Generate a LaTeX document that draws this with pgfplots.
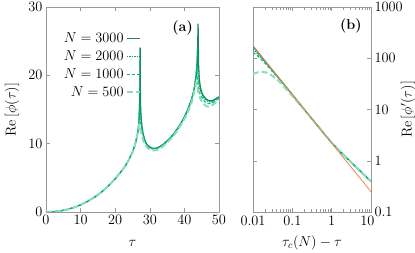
\documentclass[border=0pt]{standalone}
\usepackage{fontspec}
\usepackage{pgfplots}
\pgfplotsset{compat=1.18}
\definecolor{cA}{RGB}{30,135,90}
\definecolor{cB}{RGB}{0,160,105}
\definecolor{cC}{RGB}{0,190,120}
\definecolor{cD}{RGB}{140,220,188}
\definecolor{cO}{RGB}{240,130,70}
\newcommand{\fs}{\fontsize{14.4}{16}\selectfont}
\pgfplotsset{
  myax/.style={
    scale only axis, height=205bp,
    axis line style={gray!80}, tick style={gray!80, line width=0.5pt},
    tick align=inside,
    label style={font=\fs},
    tick label style={font=\fs},
    every axis plot/.append style={line join=round},
  },
}
\begin{document}
\begin{tikzpicture}
\path[use as bounding box] (-46bp,-41bp) rectangle (369bp,212bp);
\begin{axis}[myax, at={(0,0)}, anchor=south west, width=173bp,
  xmin=0, xmax=50, ymin=0, ymax=30,
  xtick={0,10,20,30,40,50}, ytick={0,10,20,30},
  xlabel={$\tau$}, ylabel={$\mathrm{Re}\left[\phi(\tau)\right]$},
  xlabel style={at={(axis description cs:0.5,-0.151)}, anchor=center},
  ylabel style={at={(axis description cs:-0.197,0.5)}, anchor=center, rotate=0},
  legend style={at={(0.548,0.886)}, anchor=north east, draw=none, fill=none,
    font=\fs, row sep=2.8pt, inner sep=0pt},
  legend cell align=right, legend plot pos=right,
  legend image code/.code={\draw[#1] (0cm,0cm) -- (0.46cm,0cm);},
]
\addplot[color=cA, line width=1.3pt] coordinates {
(0,0) (2,0.04) (4,0.15) (6,0.35) (8,0.65) (10,1.05) (12,1.55) (14,2.15) (16,2.9) (18,3.8) (20,4.85) (22,6.1) (23,6.8) (24,7.7) (25,8.8) (25.5,9.5) (26,10.4) (26.4,11.3) (26.7,12.3) (26.9,13.5) (27.0,14.6) (27.1,16.5) (27.15,18.5) (27.2,24.0) (27.22,20.0) (27.3,16.0) (27.45,14.0) (27.7,12.6) (28,11.6) (28.5,10.6) (29,10.0) (29.5,9.7) (30,9.5) (31,9.3) (32,9.35) (33,9.6) (34,9.95) (35,10.4) (36,10.9) (37,11.5) (38,12.2) (39,13.0) (40,13.9) (41,15.0) (42,16.4) (42.5,17.3) (43,18.5) (43.4,20.0) (43.7,22.0) (43.85,24.0) (43.95,27.5) (44.0,25.0) (44.1,21.5) (44.3,19.5) (44.6,18.3) (45,17.5) (45.5,17.0) (46,16.7) (46.5,16.45) (47,16.3) (47.5,16.25) (48,16.3) (48.5,16.4) (49,16.55) (49.5,16.7) (50,16.85)};
\addlegendentry{$N=3000$}
\addplot[color=cB, line width=1.1pt, dash pattern=on 1.5pt off 1pt] coordinates {
(0,0) (2,0.04) (4,0.15) (6,0.35) (8,0.65) (10,1.05) (12,1.55) (14,2.15) (16,2.9) (18,3.8) (20,4.85) (22,6.1) (23,6.8) (24,7.7) (25,8.8) (25.5,9.5) (26,10.4) (26.4,11.3) (26.7,12.3) (26.9,13.6) (27.0,14.8) (27.08,17) (27.13,22) (27.16,18) (27.25,15.5) (27.45,13.8) (27.7,12.5) (28,11.5) (28.5,10.5) (29,9.95) (29.5,9.65) (30,9.45) (31,9.27) (32,9.32) (33,9.6) (34,9.95) (35,10.4) (36,10.9) (37,11.5) (38,12.2) (39,13.0) (40,13.9) (41,15.0) (42,16.4) (42.5,17.3) (43,18.5) (43.4,20.0) (43.6,21.5) (43.78,24) (43.85,21) (44.0,19.3) (44.3,18.4) (44.6,17.8) (45,17.3) (45.5,16.8) (46,16.5) (46.5,16.3) (47,16.15) (47.5,16.1) (48,16.15) (48.5,16.3) (49,16.45) (49.5,16.6) (50,16.75)};
\addlegendentry{$N=2000$}
\addplot[color=cC, line width=1.1pt, dash pattern=on 3pt off 2pt] coordinates {
(0,0) (2,0.04) (4,0.15) (6,0.35) (8,0.65) (10,1.05) (12,1.55) (14,2.15) (16,2.9) (18,3.8) (20,4.85) (22,6.1) (23,6.8) (24,7.7) (25,8.8) (25.5,9.5) (26,10.4) (26.4,11.3) (26.7,12.4) (26.9,14.0) (27.0,15.2) (27.1,14.2) (27.3,13.2) (27.6,12.2) (28,11.3) (28.5,10.4) (29,9.85) (29.5,9.55) (30,9.35) (31,9.2) (32,9.25) (33,9.5) (34,9.85) (35,10.3) (36,10.8) (37,11.4) (38,12.1) (39,12.9) (40,13.8) (41,14.9) (42,16.3) (42.5,17.2) (43,18.3) (43.3,19.5) (43.55,21.5) (43.75,19.5) (44.0,18.3) (44.5,17.3) (45,16.8) (45.5,16.4) (46,16.1) (46.5,15.95) (47,15.85) (47.5,15.85) (48,15.95) (48.5,16.1) (49,16.3) (49.5,16.45) (50,16.6)};
\addlegendentry{$N=1000$}
\addplot[color=cD, line width=2pt, dash pattern=on 6pt off 3pt] coordinates {
(0,0) (2,0.04) (4,0.15) (6,0.35) (8,0.65) (10,1.05) (12,1.55) (14,2.15) (16,2.9) (18,3.8) (20,4.85) (22,6.1) (23,6.8) (24,7.7) (25,8.7) (25.5,9.4) (26,10.3) (26.4,11.3) (26.7,12.2) (26.9,12.8) (27.1,12.5) (27.4,11.8) (27.8,11.0) (28.3,10.2) (29,9.6) (29.5,9.3) (30,9.15) (31,9.0) (32,9.05) (33,9.3) (34,9.7) (35,10.15) (36,10.65) (37,11.25) (38,11.95) (39,12.75) (40,13.6) (41,14.6) (42,15.9) (42.5,16.8) (43,18.0) (43.4,18.9) (43.7,18.5) (44.0,17.6) (44.5,16.7) (45,16.2) (45.5,15.85) (46,15.6) (46.5,15.45) (47,15.4) (47.5,15.45) (48,15.6) (48.5,15.8) (49,16.0) (49.5,16.2) (50,16.4)};
\addlegendentry{$N=500$}
\node[font=\fs\bfseries] at (rel axis cs:0.79,0.90) {(a)};
\end{axis}
\begin{axis}[myax, at={(207bp,0)}, anchor=south west, width=118bp,
  xmode=log, ymode=log, xmin=0.01, xmax=10, ymin=0.1, ymax=1000,
  xtick={0.01,0.1,1,10}, xticklabels={0.01,0.1,1,\kern-7bp 10},
  ytick={0.1,1,10,100,1000}, yticklabels={0.1,1,10,100,1000},
  yminorticks=false,
  yticklabel pos=right,
  xlabel={$\tau_c(N)-\tau$}, ylabel={$\mathrm{Re}\left[\phi'(\tau)\right]$},
  xlabel style={at={(axis description cs:0.5,-0.151)}, anchor=center},
  ylabel style={at={(axis description cs:1.314,0.5)}, anchor=center, rotate=0},
]
\addplot[color=cA, line width=1.3pt] coordinates {(0.01,172) (0.02,89) (0.05,37.5) (0.1,19.5) (0.2,10.1) (0.3,6.85) (0.5,4.28) (0.7,3.1) (1,2.25) (1.5,1.62) (2,1.30) (3,0.963) (5,0.659) (7,0.515) (10,0.395)};
\addplot[color=cB, line width=1.1pt, dash pattern=on 1.5pt off 1pt] coordinates {(0.01,150) (0.013,123) (0.016,104) (0.02,86) (0.03,59) (0.05,37.5) (0.1,19.5) (0.2,10.1) (0.3,6.85) (0.5,4.28) (0.7,3.1) (1,2.25) (1.5,1.62) (2,1.30) (3,0.963) (5,0.659) (7,0.515) (10,0.395)};
\addplot[color=cC, line width=1.1pt, dash pattern=on 3pt off 2pt] coordinates {(0.01,130) (0.013,112) (0.016,96) (0.02,81) (0.03,57) (0.05,37) (0.1,19.5) (0.2,10.1) (0.3,6.85) (0.5,4.28) (0.7,3.1) (1,2.25) (1.5,1.62) (2,1.30) (3,0.963) (5,0.659) (7,0.515) (10,0.395)};
\addplot[color=cD, line width=2pt, dash pattern=on 6pt off 3pt] coordinates {(0.01,49) (0.013,53) (0.017,54.5) (0.022,52.5) (0.03,46.5) (0.04,39) (0.05,33.5) (0.065,26.5) (0.08,22) (0.1,18.6) (0.15,12.8) (0.2,10.0) (0.3,6.85) (0.5,4.28) (0.7,3.1) (1,2.25) (1.5,1.62) (2,1.30) (3,0.963) (5,0.659) (7,0.515) (10,0.395)};
\addplot[color=cO, line width=0.8pt] coordinates {(0.01,174) (0.1,19.6) (1,2.21) (10,0.249)};
\node[font=\fs\bfseries] at (rel axis cs:0.83,0.91) {(b)};
\end{axis}
\end{tikzpicture}
\end{document}
